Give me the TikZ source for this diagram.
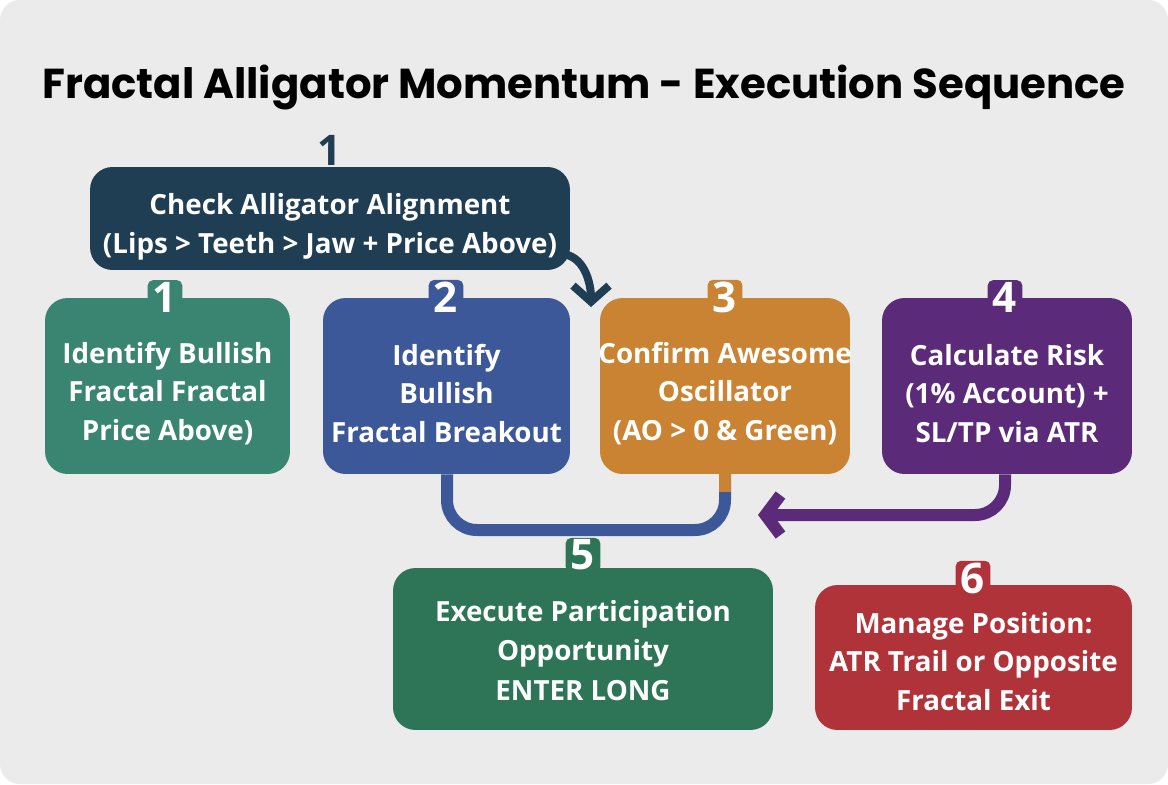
\documentclass[tikz,border=0pt]{standalone}
\usepackage{fontspec}
\setmainfont{Open Sans}
\newfontfamily\titlefont{Poppins}
\usetikzlibrary{arrows.meta}
\definecolor{bg}{HTML}{EBEBEB}
\definecolor{navy}{HTML}{1F3E53}
\definecolor{tealg}{HTML}{3A8571}
\definecolor{blu}{HTML}{3C5898}
\definecolor{orng}{HTML}{C98332}
\definecolor{purp}{HTML}{5B2B7A}
\definecolor{grn}{HTML}{2E7558}
\definecolor{redd}{HTML}{B0333A}
\begin{document}
\begin{tikzpicture}[x=0.02cm,y=-0.02cm,
  box/.style={rounded corners=0.45cm, inner sep=0pt},
  boxtext/.style={text=white, align=center,
    font=\bfseries\fontsize{15.8}{22}\selectfont, inner sep=0pt},
  numtab/.style={text=white, rounded corners=3pt,
    font=\bfseries\fontsize{24}{24}\selectfont, inner xsep=3pt, inner ysep=1pt},
  conn/.style={line width=0.24cm}]
\fill[white] (0,0) rectangle (1168,784);
\fill[bg, rounded corners=0.4cm] (0,0) rectangle (1168,784);
\useasboundingbox (0,0) rectangle (1168,784);

\node[font=\titlefont\bfseries\fontsize{23.8}{28}\selectfont, text=black] (title) at (584,88)
  {Fractal Alligator Momentum - Execution Sequence};

\coordinate (bl) at (447,530);
\coordinate (br) at (725,530);
\coordinate (pcorner) at (1005,515);
\coordinate (ptip) at (758,515);
\coordinate (astart) at (560,254);
\coordinate (atip) at (591,307);

% boxes
\node[box, fill=navy, minimum width=9.6cm, minimum height=2.06cm] (top) at (330,218.5) {};
\node[box, fill=tealg, minimum width=4.9cm, minimum height=3.52cm] (b1) at (167.5,386) {};
\node[box, fill=blu, minimum width=4.94cm, minimum height=3.52cm] (b2) at (446.5,386) {};
\node[box, fill=orng, minimum width=5.0cm, minimum height=3.52cm] (b3) at (725,386) {};
\node[box, fill=purp, minimum width=5.0cm, minimum height=3.52cm] (b4) at (1007,386) {};
\node[box, fill=grn, minimum width=7.6cm, minimum height=3.24cm] (b5) at (583,649) {};
\node[box, fill=redd, minimum width=6.34cm, minimum height=2.9cm] (b6) at (973.5,657.5) {};

% box texts
\node[boxtext] (t0) at ([yshift=-0.16cm]top.center)
  {Check Alligator Alignment\\(Lips > Teeth > Jaw + Price Above)};
\node[boxtext] (t1) at ([yshift=-0.15cm]b1.center)
  {Identify Bullish\\Fractal Fractal\\Price Above)};
\node[boxtext] (t2) at ([yshift=-0.15cm]b2.center)
  {Identify\\Bullish\\Fractal Breakout};
\node[boxtext] (t3) at ([yshift=-0.15cm]b3.center)
  {Confirm Awesome\\Oscillator\\(AO > 0 \& Green)};
\node[boxtext] (t4) at ([yshift=-0.15cm]b4.center)
  {Calculate Risk\\(1\% Account) +\\SL/TP via ATR};
\node[boxtext, font=\bfseries\fontsize{15.8}{22.6}\selectfont] (t5) at ([yshift=-0.03cm]b5.center)
  {Execute Participation\\Opportunity\\ENTER LONG};
\node[boxtext] (t6) at ([yshift=-0.08cm]b6.center)
  {Manage Position:\\ATR Trail or Opposite\\Fractal Exit};

% number tabs
\node[font=\bfseries\fontsize{24}{24}\selectfont, text=navy] (n0) at (330,150) {1};
\draw[navy, line width=0.1cm] (n0.south) -- (top.north);
\node[numtab, fill=tealg] (n1) at (165,297) {1};
\node[numtab, fill=blu] (n2) at (446,297) {2};
\node[numtab, fill=orng] (n3) at (725,297) {3};
\node[numtab, fill=purp] (n4) at (1005,297) {4};
\node[numtab, fill=grn] (n5) at (583,555) {5};
\node[numtab, fill=redd] (n6) at (973,578) {6};

% connectors
\draw[navy, line width=0.16cm, -{Straight Barb[length=0.32cm,width=0.72cm]}]
  (astart) to[out=0,in=90] (atip);
\draw[blu, conn, rounded corners=0.6cm] (b2.south -| bl) -- (bl) -- (br) -- (b3.south -| br);
\draw[orng, conn] (b3.south -| br) -- ++(0,18);
\draw[purp, conn, rounded corners=0.6cm, -{Straight Barb[length=0.3cm,width=0.8cm]}]
  (b4.south -| pcorner) -- (pcorner) -- (ptip);
\end{tikzpicture}
\end{document}
